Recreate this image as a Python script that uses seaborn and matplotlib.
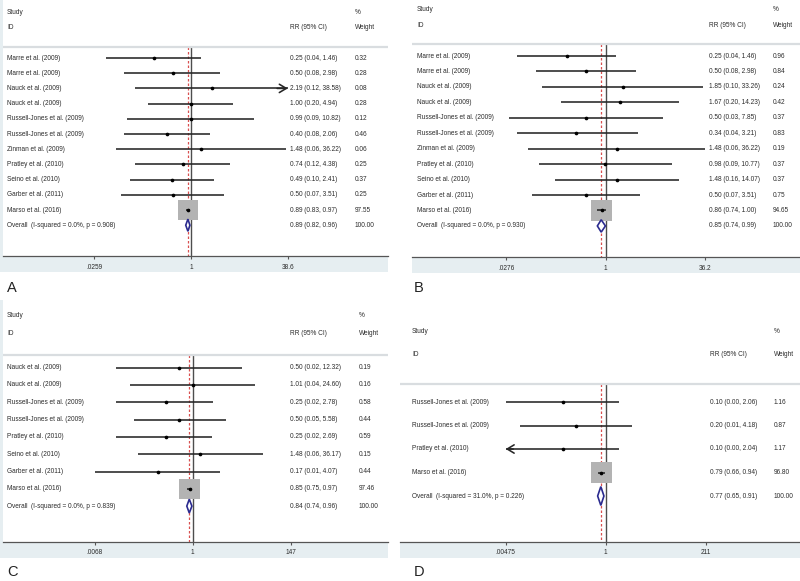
import numpy as np
import pandas as pd
import seaborn as sns
import matplotlib.pyplot as plt
from matplotlib.patches import Rectangle

sns.set_style("white")
plt.rcParams['font.family'] = ['Liberation Sans', 'DejaVu Sans']

# ---------------- data ----------------
# Panel A
studies_a = ["Marre et al. (2009)", "Marre et al. (2009)", "Nauck et al. (2009)",
             "Nauck et al. (2009)", "Russell-Jones et al. (2009)", "Russell-Jones et al. (2009)",
             "Zinman et al. (2009)", "Pratley et al. (2010)", "Seino et al. (2010)",
             "Garber et al. (2011)", "Marso et al. (2016)"]
est_a = [0.25, 0.50, 2.19, 1.00, 0.99, 0.40, 1.48, 0.74, 0.49, 0.50, 0.89]
lo_a = [0.04, 0.08, 0.12, 0.20, 0.09, 0.08, 0.06, 0.12, 0.10, 0.07, 0.83]
hi_a = [1.46, 2.98, 38.58, 4.94, 10.82, 2.06, 36.22, 4.38, 2.41, 3.51, 0.97]
wt_a = [0.32, 0.28, 0.08, 0.28, 0.12, 0.46, 0.06, 0.25, 0.37, 0.25, 97.55]
overall_a = "Overall  (I-squared = 0.0%, p = 0.908)"
pooled_a = [0.89, 0.82, 0.96]
ticks_a = [0.0259, 1, 38.6]
ticklabels_a = [".0259", "1", "38.6"]
arrows_a = {2: "right"}

# Panel B
studies_b = ["Marre et al. (2009)", "Marre et al. (2009)", "Nauck et al. (2009)",
             "Nauck et al. (2009)", "Russell-Jones et al. (2009)", "Russell-Jones et al. (2009)",
             "Zinman et al. (2009)", "Pratley et al. (2010)", "Seino et al. (2010)",
             "Garber et al. (2011)", "Marso et al. (2016)"]
est_b = [0.25, 0.50, 1.85, 1.67, 0.50, 0.34, 1.48, 0.98, 1.48, 0.50, 0.86]
lo_b = [0.04, 0.08, 0.10, 0.20, 0.03, 0.04, 0.06, 0.09, 0.16, 0.07, 0.74]
hi_b = [1.46, 2.98, 33.26, 14.23, 7.85, 3.21, 36.22, 10.77, 14.07, 3.51, 1.00]
wt_b = [0.96, 0.84, 0.24, 0.42, 0.37, 0.83, 0.19, 0.37, 0.37, 0.75, 94.65]
overall_b = "Overall  (I-squared = 0.0%, p = 0.930)"
pooled_b = [0.85, 0.74, 0.99]
ticks_b = [0.0276, 1, 36.2]
ticklabels_b = [".0276", "1", "36.2"]
arrows_b = {}

# Panel C
studies_c = ["Nauck et al. (2009)", "Nauck et al. (2009)", "Russell-Jones et al. (2009)",
             "Russell-Jones et al. (2009)", "Pratley et al. (2010)", "Seino et al. (2010)",
             "Garber et al. (2011)", "Marso et al. (2016)"]
est_c = [0.50, 1.01, 0.25, 0.50, 0.25, 1.48, 0.17, 0.85]
lo_c = [0.02, 0.04, 0.02, 0.05, 0.02, 0.06, 0.0068, 0.75]
hi_c = [12.32, 24.60, 2.78, 5.58, 2.69, 36.17, 4.07, 0.97]
wt_c = [0.19, 0.16, 0.58, 0.44, 0.59, 0.15, 0.44, 97.46]
overall_c = "Overall  (I-squared = 0.0%, p = 0.839)"
pooled_c = [0.84, 0.74, 0.96]
ticks_c = [0.0068, 1, 147]
ticklabels_c = [".0068", "1", "147"]
arrows_c = {}

# Panel D
studies_d = ["Russell-Jones et al. (2009)", "Russell-Jones et al. (2009)",
             "Pratley et al. (2010)", "Marso et al. (2016)"]
est_d = [0.10, 0.20, 0.10, 0.79]
lo_d = [0.0048, 0.01, 0.004, 0.66]
hi_d = [2.06, 4.18, 2.04, 0.94]
wt_d = [1.16, 0.87, 1.17, 96.80]
overall_d = "Overall  (I-squared = 31.0%, p = 0.226)"
pooled_d = [0.77, 0.65, 0.91]
ticks_d = [0.00475, 1, 211]
ticklabels_d = [".00475", "1", "211"]
arrows_d = {2: "left"}

# ---------------- layout (pixels in an 800x581 figure) ----------------
W, H = 800, 581
layout = {
    "A": dict(box=(3, 0, 388, 256), band=(0, 0, 388, 272), null=191, ppu=26.5,
              row0=58, sp=15.2, cols=(7, 290, 355), letter=(7, 288)),
    "B": dict(box=(412, 0, 800, 257), band=(412, 0, 800, 273), null=605.7, ppu=27.7,
              row0=56, sp=15.45, cols=(417, 709, 773), letter=(414, 288)),
    "C": dict(box=(3, 300, 388, 541.7), band=(0, 300, 388, 558), null=192.7, ppu=19.6,
              row0=367.7, sp=17.3, cols=(7, 290, 359), letter=(7, 572)),
    "D": dict(box=(400, 300, 800, 541.7), band=(400, 300, 800, 558), null=605.7, ppu=18.7,
              row0=402, sp=23.5, cols=(412, 710, 774), letter=(414, 572)),
}

fs = 4.7
txt_col = "#2b2b2b"
line_col = "#262626"

fig = plt.figure(figsize=(W / 100, H / 100), dpi=100)


def draw_panel(key, studies, est, lo, hi, wt, overall, pooled, ticks, ticklabels, arrows):
    lay = layout[key]
    x0, y0, x1, y1 = lay["box"]
    bx0, by0, bx1, by1 = lay["band"]
    fig.add_artist(Rectangle((bx0 / W, 1 - by1 / H), (bx1 - bx0) / W, (by1 - by0) / H,
                             transform=fig.transFigure, facecolor="#e6eef1",
                             edgecolor="none", zorder=0))
    ax = fig.add_axes([x0 / W, 1 - y1 / H, (x1 - x0) / W, (y1 - y0) / H], zorder=1)
    ax.set_facecolor("white")

    n = len(studies)
    df = pd.DataFrame(dict(study=studies, est=est, lo=lo, hi=hi, w=wt, row=np.arange(n)))

    ax.set_xscale("log")
    ax.set_xlim(np.exp((x0 - lay["null"]) / lay["ppu"]), np.exp((x1 - lay["null"]) / lay["ppu"]))
    bottom = (y1 - lay["row0"]) / lay["sp"]
    top = (y0 - lay["row0"]) / lay["sp"]
    ax.set_ylim(bottom, top)
    sep = -0.75

    # reference lines
    ax.vlines(1, sep, bottom, color="#4d4d4d", lw=1.0, zorder=1)
    ax.vlines(pooled[0], sep, bottom, color="#d94f4f", lw=0.9,
              linestyles=(0, (2, 1.6)), zorder=1)
    ax.axhline(sep, color="#d9dde0", lw=1.6, zorder=1)

    # weight boxes, CIs, point estimates
    sns.scatterplot(data=df, x="est", y="row", marker="s", s=(df["w"] * 2.25).to_numpy(),
                    color="#b3b3b3", linewidth=0, ax=ax, zorder=2, legend=False)
    lo_clip = df["lo"].clip(lower=ticks[0])
    hi_clip = df["hi"].clip(upper=ticks[-1])
    ax.hlines(df["row"], lo_clip, hi_clip, color=line_col, lw=1.15, zorder=3)
    sns.scatterplot(data=df, x="est", y="row", marker="o", s=7, color="black",
                    linewidth=0, ax=ax, zorder=4, legend=False)
    for i, side in arrows.items():
        end = hi_clip[i] if side == "right" else lo_clip[i]
        start = end / 1.5 if side == "right" else end * 1.5
        ax.annotate("", xy=(end, i), xytext=(start, i),
                    arrowprops=dict(arrowstyle="->,head_length=0.5,head_width=0.3",
                                    color=line_col, lw=1.15, shrinkA=0, shrinkB=0), zorder=3)

    # pooled diamond
    pe, pl, ph = pooled
    ax.fill([pl, pe, ph, pe], [n, n - 0.4, n, n + 0.4], facecolor="white",
            edgecolor="#2b2b8f", lw=1.2, zorder=3)

    # text columns
    tr = ax.get_yaxis_transform()
    fx = [(c - x0) / (x1 - x0) for c in lay["cols"]]
    kw = dict(transform=tr, fontsize=fs, color=txt_col, va="center", ha="left")
    ax.text(fx[0], -3, "Study", **kw)
    ax.text(fx[0], -2, "ID", **kw)
    ax.text(fx[1], -2, "RR (95% CI)", **kw)
    ax.text(fx[2], -3, "%", **kw)
    ax.text(fx[2], -2, "Weight", **kw)
    for r in df.itertuples():
        ax.text(fx[0], r.row, r.study, **kw)
        ax.text(fx[1], r.row, f"{r.est:.2f} ({r.lo:.2f}, {r.hi:.2f})", **kw)
        ax.text(fx[2], r.row, f"{r.w:.2f}", **kw)
    ax.text(fx[0], n, overall, **kw)
    ax.text(fx[1], n, f"{pe:.2f} ({pl:.2f}, {ph:.2f})", **kw)
    ax.text(fx[2], n, "100.00", **kw)

    # axis
    for s in ["top", "left", "right"]:
        ax.spines[s].set_visible(False)
    ax.spines["bottom"].set_color("#555555")
    ax.spines["bottom"].set_linewidth(0.9)
    ax.set_yticks([])
    ax.minorticks_off()
    ax.set_xticks(ticks)
    ax.set_xticklabels(ticklabels)
    ax.tick_params(axis="x", length=2.5, width=0.8, color="#555555", labelsize=fs,
                   labelcolor=txt_col, pad=3, bottom=True)
    ax.set_xlabel("")
    ax.set_ylabel("")

    lx, ly = lay["letter"]
    fig.text(lx / W, 1 - ly / H, key, fontsize=10.5, color="#222222", va="center", ha="left")


draw_panel("A", studies_a, est_a, lo_a, hi_a, wt_a, overall_a, pooled_a, ticks_a, ticklabels_a, arrows_a)
draw_panel("B", studies_b, est_b, lo_b, hi_b, wt_b, overall_b, pooled_b, ticks_b, ticklabels_b, arrows_b)
draw_panel("C", studies_c, est_c, lo_c, hi_c, wt_c, overall_c, pooled_c, ticks_c, ticklabels_c, arrows_c)
draw_panel("D", studies_d, est_d, lo_d, hi_d, wt_d, overall_d, pooled_d, ticks_d, ticklabels_d, arrows_d)

fig.savefig("out.png", dpi=100)
